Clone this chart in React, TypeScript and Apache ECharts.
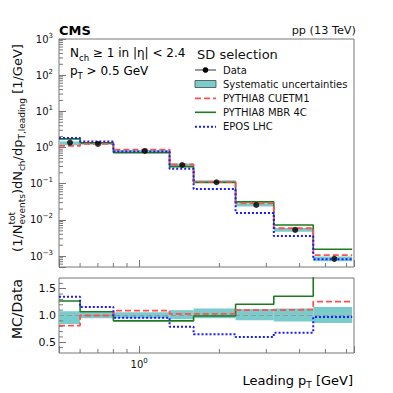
import React, { useEffect, useRef } from 'react';
import * as echarts from 'echarts';

// ---------------- data ----------------
const binEdges = [0.5, 0.6, 0.8, 1.3, 1.6, 2.3, 3.2, 4.5, 6.3];
const dataValues = [1.37, 1.26, 0.805, 0.33, 0.11, 0.026, 0.0053, 0.00084];
const systLow = [0.84, 0.95, 0.95, 0.93, 0.95, 0.91, 0.89, 0.86];
const systHigh = [1.08, 1.06, 1.06, 1.1, 1.13, 1.12, 1.13, 1.16];
const ratioCUETM1 = [0.81, 1.0, 1.09, 1.03, 1.03, 1.1, 1.11, 1.26];
const ratioMBR4C = [1.27, 1.07, 0.9, 0.9, 0.99, 1.21, 1.36, 1.85];
const ratioEPOS = [1.35, 1.16, 0.96, 0.79, 0.65, 0.6, 0.68, 0.97];
const xMinorTickValues = [0.6, 0.7, 0.8, 0.9, 2, 3, 4, 5, 6];
const yTopMinorMultipliers = [2, 3, 4, 5, 6, 7, 8, 9];
const yTopDecades = [-4, -3, -2, -1, 0, 1, 2];
const ratioMajorTicks = [0.5, 1.0, 1.5];
const ratioMinorTicks = [0.4, 0.6, 0.7, 0.8, 0.9, 1.1, 1.2, 1.3, 1.4, 1.6];
const ratioReference = 1;
const legendLabels = ['Data', 'Systematic uncertainties', 'PYTHIA8 CUETM1', 'PYTHIA8 MBR 4C', 'EPOS LHC'];

const X_MIN = 0.5;
const X_MAX = 6.4;
const Y_MIN = 5e-4;
const Y_MAX = 1e3;
const R_MIN = 0.3;
const R_MAX = 1.7;

const FONT = 'DejaVu Sans';
const FRAME = '#777777';
const TEAL = '#7acccc';
const RED = '#ff4f4f';
const GREEN = '#1f7a1f';
const BLUE = '#1a1aff';
const TXT = '#111111';

const binCenters = dataValues.map((_, i) => (binEdges[i] + binEdges[i + 1]) / 2);
const stepData = (vals: number[]) => {
  const pts = vals.map((v, i) => [binEdges[i], v]);
  pts.push([binEdges[vals.length], vals[vals.length - 1]]);
  return pts;
};

const powLabel = (v: number) => {
  const l = Math.log10(v);
  const r = Math.round(l);
  if (Math.abs(l - r) > 1e-6) return '';
  return `{b|10}{s|${r < 0 ? '\u2212' + -r : r}}`;
};
const powRich = {
  b: { fontSize: 10, lineHeight: 14, fontFamily: FONT, color: TXT },
  s: { fontSize: 7, lineHeight: 8, verticalAlign: 'top', fontFamily: FONT, color: TXT },
};

export default function App() {
  const ref = useRef<HTMLDivElement>(null);
  useEffect(() => {
    if (!ref.current) return;
    const chart = echarts.init(ref.current, null, { renderer: 'svg' });

    const ctx = document.createElement('canvas').getContext('2d')!;
    const measure = (t: string, s: number) => {
      ctx.font = `${s}px "${FONT}"`;
      return ctx.measureText(t).width;
    };
    type Piece = { t: string; s: number; dy: number; stackNext?: boolean };
    const pieces: Piece[] = [
      { t: '(1/N', s: 13, dy: 0 },
      { t: 'tot', s: 9, dy: -5.5, stackNext: true },
      { t: 'events', s: 9, dy: 4.5 },
      { t: ')dN', s: 13, dy: 0 },
      { t: 'ch', s: 9, dy: 4.5 },
      { t: '/dp', s: 13, dy: 0 },
      { t: 'T,leading', s: 9, dy: 4.5 },
      { t: ' [1/GeV]', s: 13, dy: 0 },
    ];
    let cursor = 0;
    let stackW = 0;
    let stacking = false;
    const placed: { x: number; p: Piece }[] = [];
    pieces.forEach((p) => {
      const w = measure(p.t, p.s);
      placed.push({ x: cursor, p });
      if (p.stackNext) {
        stackW = w;
        stacking = true;
      } else if (stacking) {
        cursor += Math.max(w, stackW);
        stacking = false;
      } else {
        cursor += w;
      }
    });
    const W = cursor;
    const yTitleChildren = placed.map(({ x, p }) => ({
      type: 'text',
      x: x - W / 2,
      y: p.dy,
      style: { text: p.t, fontSize: p.s, fontFamily: FONT, fill: TXT, align: 'left', verticalAlign: 'middle' },
    }));

    const bandRender = (_params: any, api: any) => {
      const a = api.coord([api.value(0), api.value(3)]);
      const b = api.coord([api.value(1), api.value(2)]);
      return {
        type: 'rect',
        shape: { x: a[0], y: a[1], width: b[0] - a[0], height: b[1] - a[1] },
        style: { fill: TEAL },
      };
    };
    const xTickRender = (_params: any, api: any) => {
      const p = api.coord([api.value(0), api.value(1)]);
      return { type: 'line', shape: { x1: p[0], y1: p[1], x2: p[0], y2: p[1] - 4 }, style: { stroke: FRAME, lineWidth: 1 } };
    };
    const yTickRender = (_params: any, api: any) => {
      const p = api.coord([api.value(0), api.value(1)]);
      return { type: 'line', shape: { x1: p[0], y1: p[1], x2: p[0] + 4, y2: p[1] }, style: { stroke: FRAME, lineWidth: 1 } };
    };

    const topMinor: number[][] = [];
    yTopDecades.forEach((d) =>
      yTopMinorMultipliers.forEach((m) => {
        const v = m * Math.pow(10, d);
        if (v > Y_MIN && v < Y_MAX) topMinor.push([X_MIN, v]);
      })
    );

    const lineSeries = (name: string, vals: number[], idx: number, color: string, width: number, type: any, z: number) => ({
      type: 'line',
      name,
      xAxisIndex: idx,
      yAxisIndex: idx,
      data: stepData(vals),
      step: 'end',
      symbol: 'none',
      showSymbol: false,
      silent: true,
      clip: true,
      z,
      lineStyle: { color, width, type },
      itemStyle: { color },
    });

    const axisTick = { inside: true, length: 7, lineStyle: { color: FRAME, width: 1 } };

    const legendY = [70, 84, 98.3, 112.3, 126.7];
    const lx0 = 195;
    const lx1 = 216;
    const legendGraphics: any[] = [
      { type: 'text', x: 197, y: 54, style: { text: 'SD selection', fontSize: 13, fontFamily: FONT, fill: TXT, verticalAlign: 'middle' } },
      { type: 'line', shape: { x1: lx0, y1: legendY[0], x2: lx1, y2: legendY[0] }, style: { stroke: '#555', lineWidth: 1.2 } },
      { type: 'circle', shape: { cx: (lx0 + lx1) / 2, cy: legendY[0], r: 2.8 }, style: { fill: '#000' } },
      { type: 'rect', shape: { x: lx0, y: legendY[1] - 3.5, width: lx1 - lx0, height: 7 }, style: { fill: TEAL, stroke: '#444', lineWidth: 0.8 } },
      { type: 'line', shape: { x1: lx0, y1: legendY[2], x2: lx1, y2: legendY[2] }, style: { stroke: RED, lineWidth: 1.8, lineDash: [6, 3] } },
      { type: 'line', shape: { x1: lx0, y1: legendY[3], x2: lx1, y2: legendY[3] }, style: { stroke: GREEN, lineWidth: 1.6 } },
      { type: 'line', shape: { x1: lx0, y1: legendY[4], x2: lx1, y2: legendY[4] }, style: { stroke: BLUE, lineWidth: 2, lineDash: [2, 2] } },
      ...legendLabels.map((t, i) => ({
        type: 'text',
        x: 223,
        y: legendY[i],
        style: { text: t, fontSize: 10, fontFamily: FONT, fill: TXT, verticalAlign: 'middle' },
      })),
    ];

    const option: any = {
      animation: false,
      backgroundColor: '#ffffff',
      textStyle: { fontFamily: FONT },
      grid: [
        { left: 59, right: 39, top: 39, height: 228, show: true, borderColor: FRAME, borderWidth: 1, backgroundColor: 'transparent' },
        { left: 59, right: 39, top: 278, height: 75, show: true, borderColor: FRAME, borderWidth: 1, backgroundColor: 'transparent' },
      ],
      xAxis: [
        {
          type: 'log', logBase: 10, gridIndex: 0, min: X_MIN, max: X_MAX,
          axisLine: { show: false }, axisTick, axisLabel: { show: false }, splitLine: { show: false },
        },
        {
          type: 'log', logBase: 10, gridIndex: 1, min: X_MIN, max: X_MAX,
          axisLine: { show: false }, axisTick, splitLine: { show: false },
          axisLabel: { formatter: powLabel, rich: powRich, margin: 4 },
        },
      ],
      yAxis: [
        {
          type: 'log', logBase: 10, gridIndex: 0, min: Y_MIN, max: Y_MAX,
          axisLine: { show: false }, axisTick, splitLine: { show: false },
          axisLabel: { formatter: powLabel, rich: powRich, margin: 6 },
        },
        {
          type: 'value', gridIndex: 1, min: R_MIN, max: R_MAX,
          axisLine: { show: false }, splitLine: { show: false },
          axisTick: { ...axisTick, customValues: ratioMajorTicks },
          axisLabel: { customValues: ratioMajorTicks, formatter: (v: number) => v.toFixed(1), fontSize: 11, color: TXT, margin: 3, fontFamily: FONT },
        },
      ],
      series: [
        {
          type: 'custom', name: 'Systematic uncertainties', xAxisIndex: 0, yAxisIndex: 0, z: 1, silent: true,
          renderItem: bandRender, encode: { x: [0, 1], y: [2, 3] },
          data: dataValues.map((v, i) => [binEdges[i], binEdges[i + 1], v * systLow[i], v * systHigh[i]]),
        },
        {
          type: 'custom', name: 'Systematic uncertainties ratio', xAxisIndex: 1, yAxisIndex: 1, z: 1, silent: true,
          renderItem: bandRender, encode: { x: [0, 1], y: [2, 3] },
          data: dataValues.map((_, i) => [binEdges[i], binEdges[i + 1], systLow[i], systHigh[i]]),
        },
        {
          type: 'line', name: 'ref', xAxisIndex: 1, yAxisIndex: 1, z: 2, symbol: 'none', silent: true,
          data: [[X_MIN, ratioReference], [X_MAX, ratioReference]],
          lineStyle: { color: '#999', width: 1, type: [5, 3] },
        },
        lineSeries('PYTHIA8 MBR 4C', dataValues.map((v, i) => v * ratioMBR4C[i]), 0, GREEN, 1.6, 'solid', 3),
        lineSeries('PYTHIA8 CUETM1', dataValues.map((v, i) => v * ratioCUETM1[i]), 0, RED, 1.8, [6, 3], 4),
        lineSeries('EPOS LHC', dataValues.map((v, i) => v * ratioEPOS[i]), 0, BLUE, 2, [2, 2], 5),
        lineSeries('MBR ratio', ratioMBR4C, 1, GREEN, 1.6, 'solid', 3),
        lineSeries('CUETM1 ratio', ratioCUETM1, 1, RED, 1.8, [6, 3], 4),
        lineSeries('EPOS ratio', ratioEPOS, 1, BLUE, 2, [2, 2], 5),
        {
          type: 'scatter', name: 'Data', xAxisIndex: 0, yAxisIndex: 0, z: 6, silent: true,
          symbol: 'circle', symbolSize: 6, itemStyle: { color: '#000' },
          data: dataValues.map((v, i) => [binCenters[i], v]),
        },
        {
          type: 'custom', name: 'xminor0', xAxisIndex: 0, yAxisIndex: 0, z: 7, silent: true, clip: false,
          renderItem: xTickRender, encode: { x: 0, y: 1 },
          data: xMinorTickValues.map((v) => [v, Y_MIN]),
        },
        {
          type: 'custom', name: 'xminor1', xAxisIndex: 1, yAxisIndex: 1, z: 7, silent: true, clip: false,
          renderItem: xTickRender, encode: { x: 0, y: 1 },
          data: xMinorTickValues.map((v) => [v, R_MIN]),
        },
        {
          type: 'custom', name: 'yminor0', xAxisIndex: 0, yAxisIndex: 0, z: 7, silent: true, clip: false,
          renderItem: yTickRender, encode: { x: 0, y: 1 },
          data: topMinor,
        },
        {
          type: 'custom', name: 'yminor1', xAxisIndex: 1, yAxisIndex: 1, z: 7, silent: true, clip: false,
          renderItem: yTickRender, encode: { x: 0, y: 1 },
          data: ratioMinorTicks.map((v) => [X_MIN, v]),
        },
      ],
      graphic: [
        { type: 'text', x: 59, y: 30, style: { text: 'CMS', fontSize: 13, fontWeight: 'bold', fontFamily: FONT, fill: '#000', verticalAlign: 'middle' } },
        { type: 'text', x: 356, y: 30, style: { text: 'pp (13 TeV)', fontSize: 11.3, fontFamily: FONT, fill: TXT, align: 'right', verticalAlign: 'middle' } },
        {
          type: 'text', x: 70, y: 53,
          style: {
            text: '{m|N}{sub|ch}{m| \u2265 1 in |\u03b7| < 2.4}', fontFamily: FONT, verticalAlign: 'middle',
            rich: {
              m: { fontSize: 12, lineHeight: 18, fontFamily: FONT, color: TXT },
              sub: { fontSize: 8.5, lineHeight: 10, verticalAlign: 'bottom', fontFamily: FONT, color: TXT },
            },
          },
        },
        {
          type: 'text', x: 70, y: 71,
          style: {
            text: '{m|p}{sub|T}{m| > 0.5 GeV}', fontFamily: FONT, verticalAlign: 'middle',
            rich: {
              m: { fontSize: 12, lineHeight: 18, fontFamily: FONT, color: TXT },
              sub: { fontSize: 8.5, lineHeight: 10, verticalAlign: 'bottom', fontFamily: FONT, color: TXT },
            },
          },
        },
        ...legendGraphics,
        { type: 'group', x: 17, y: 148, rotation: Math.PI / 2, children: yTitleChildren },
        { type: 'text', x: 17, y: 309, rotation: Math.PI / 2, style: { text: 'MC/Data', fontSize: 14, fontFamily: FONT, fill: TXT, align: 'center', verticalAlign: 'middle' } },
        {
          type: 'text', x: 353, y: 380,
          style: {
            text: '{m|Leading p}{sub|T}{m| [GeV]}', fontFamily: FONT, align: 'right', verticalAlign: 'middle',
            rich: {
              m: { fontSize: 13, lineHeight: 18, fontFamily: FONT, color: TXT },
              sub: { fontSize: 9, lineHeight: 10, verticalAlign: 'bottom', fontFamily: FONT, color: TXT },
            },
          },
        },
      ],
    };
    chart.setOption(option);
    return () => chart.dispose();
  }, []);
  return <div ref={ref} style={{ position: 'fixed', left: 0, top: 0, width: 393, height: 393, background: '#fff' }} />;
}
